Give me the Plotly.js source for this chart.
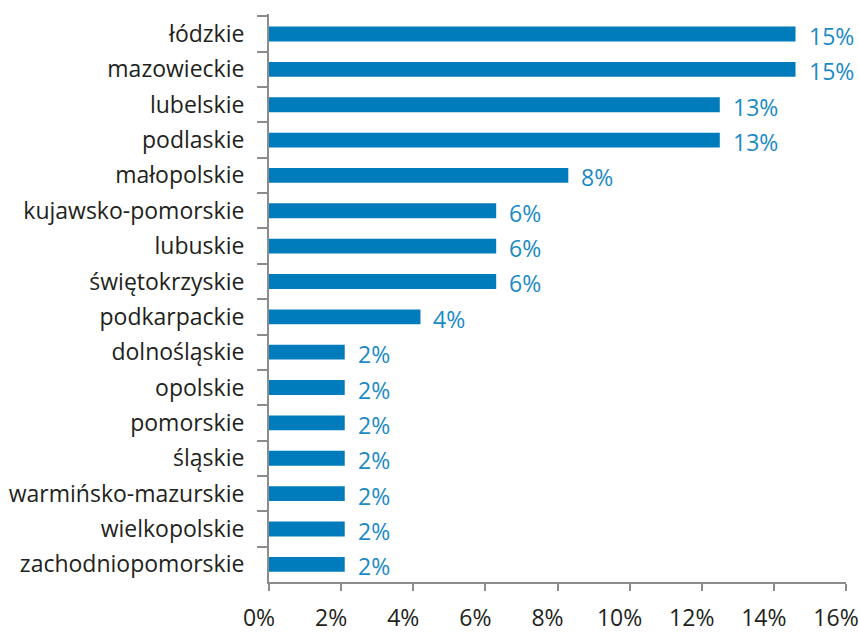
<!DOCTYPE html>
<html>
<head>
<meta charset="utf-8">
<script src="https://cdn.plot.ly/plotly-3.0.1.min.js"></script>
<style>html,body{margin:0;padding:0;background:#fff;}#chart{width:859px;height:633px;}</style>
</head>
<body>
<div id="chart"></div>
<script>
const regions = ["łódzkie","mazowieckie","lubelskie","podlaskie","małopolskie","kujawsko-pomorskie","lubuskie","świętokrzyskie","podkarpackie","dolnośląskie","opolskie","pomorskie","śląskie","warmińsko-mazurskie","wielkopolskie","zachodniopomorskie"];
const shares = [14.6,14.6,12.5,12.5,8.3,6.3,6.3,6.3,4.2,2.1,2.1,2.1,2.1,2.1,2.1,2.1];
const shareLabels = ["15%","15%","13%","13%","8%","6%","6%","6%","4%","2%","2%","2%","2%","2%","2%","2%"];
const xTickVals = [0,2,4,6,8,10,12,14,16];
const xTickText = ["0%","2%","4%","6%","8%","10%","12%","14%","16%"];

const FONT = "Open Sans, Noto Sans, sans-serif";
const axisColor = "#8c8c8c";
const textColor = "#231f20";

const trace = {
  type: "bar",
  orientation: "h",
  x: shares,
  y: regions,
  marker: {color: "#007bbb"},
  hoverinfo: "skip"
};

const annotations = shares.map((v, i) => ({
  x: v, y: regions[i], xref: "x", yref: "y",
  text: shareLabels[i], showarrow: false,
  xanchor: "left", yanchor: "middle", xshift: 11, yshift: -2,
  font: {family: FONT, size: 23, color: "#1a8ac6"}
}));

const layout = {
  width: 859, height: 633,
  margin: {l: 269, r: 13, t: 14, b: 51},
  paper_bgcolor: "#fff", plot_bgcolor: "#fff",
  showlegend: false,
  bargap: 0.58,
  font: {family: FONT, size: 23, color: textColor},
  xaxis: {
    range: [0, 16], tickvals: xTickVals, ticktext: xTickText,
    showgrid: false, zeroline: false,
    showline: true, linecolor: axisColor, linewidth: 2,
    ticks: "outside", ticklen: 7, tickwidth: 2, tickcolor: axisColor,
    ticklabelstandoff: 7,
    ticklabelshift: -10,
    tickfont: {family: FONT, size: 23, color: textColor}
  },
  yaxis: {
    autorange: "reversed",
    showgrid: false, zeroline: false,
    showline: true, linecolor: axisColor, linewidth: 2,
    ticks: "outside", ticklen: 10, tickwidth: 2, tickcolor: axisColor,
    tickson: "boundaries",
    ticklabelstandoff: 18,
    tickfont: {family: FONT, size: 23, color: textColor}
  },
  annotations: annotations
};

Plotly.newPlot("chart", [trace], layout, {staticPlot: true, displayModeBar: false});
</script>
</body>
</html>
